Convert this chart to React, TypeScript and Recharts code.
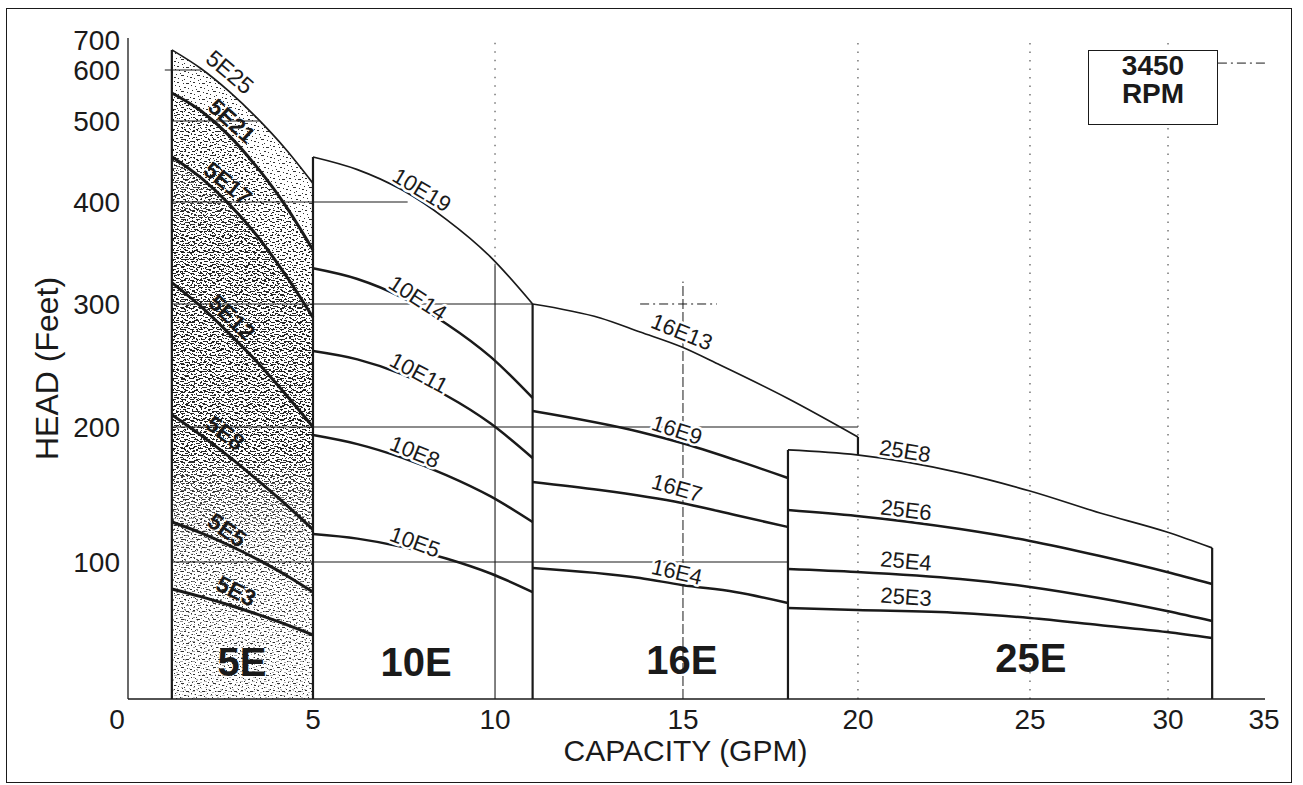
import { ComposedChart, Line, Area, XAxis, YAxis, ReferenceLine, ReferenceDot } from 'recharts';

const FONT = '"Liberation Sans", Arial, Helvetica, sans-serif';
const INK = '#1a1a1a';

const capacityTicks = [0, 5, 10, 15, 20, 25, 30, 35];
const headTicks = [100, 200, 300, 400, 500, 600, 700];

// the printed axes are not evenly spaced, so both scales run through these stops
// (value -> share of the plot length, measured from the origin side)
const capacityStops = [0, 5, 10, 15, 20, 25, 30, 35];
const capacityShare = [-0.0097, 0.1627, 0.3228, 0.4881, 0.642, 0.7933, 0.9147, 0.9991];
const headStops = [0, 100, 200, 300, 400, 500, 600, 700];
const headShare = [0, 0.2073, 0.4115, 0.5976, 0.7519, 0.8744, 0.9516, 0.997];

type Pt = [number, number];

// head curves, [capacity GPM, head ft]
const c5E25: Pt[] = [[1.4, 667], [2.14, 605], [2.86, 558], [3.57, 506], [4.29, 466], [5, 423]];
const c5E21: Pt[] = [[1.4, 555], [2.14, 520], [2.86, 482], [3.57, 443], [4.29, 397], [5, 353]];
const c5E17: Pt[] = [[1.4, 456], [2.14, 430], [2.86, 398], [3.57, 367], [4.29, 329], [5, 289]];
const c5E12: Pt[] = [[1.4, 321], [2.14, 298], [2.86, 276], [3.57, 253], [4.29, 227], [5, 200]];
const c5E8: Pt[] = [[1.4, 210], [2.14, 194], [2.86, 178], [3.57, 161], [4.29, 143], [5, 124]];
const c5E5: Pt[] = [[1.4, 129.6], [2.14, 121.6], [2.86, 112.4], [3.57, 102.1], [4.29, 90.7], [5, 78]];
const c5E3: Pt[] = [[1.4, 80.3], [2.14, 74.7], [2.86, 68.6], [3.57, 61.9], [4.29, 54.6], [5, 46.7]];

const c10E19: Pt[] = [[5, 455.6], [6.22, 440], [7.44, 415], [8.66, 383], [9.88, 346], [11, 300]];
const c10E14: Pt[] = [[5, 335], [6.22, 324.5], [7.44, 306.5], [8.66, 284], [9.88, 257], [11, 223.6]];
const c10E11: Pt[] = [[5, 261.8], [6.22, 255], [7.44, 243], [8.66, 225.6], [9.88, 202.8], [11, 177]];
const c10E8: Pt[] = [[5, 194], [6.22, 187.3], [7.44, 177.3], [8.66, 164.4], [9.88, 148.6], [11, 129.6]];
const c10E5: Pt[] = [[5, 120.7], [6.22, 117.3], [7.44, 111.2], [8.66, 102.6], [9.88, 91.6], [11, 78]];

const c16E13: Pt[] = [[11, 300], [12.8, 288.6], [13.86, 277.2], [14.97, 265], [16.06, 250.4], [17.97, 223.6], [20, 192.6]];
const c16E9: Pt[] = [[11, 213], [13.86, 196.3], [14.97, 188.1], [16.49, 175.6], [18, 162.2]];
const c16E7: Pt[] = [[11, 159.3], [12.79, 153.3], [14.97, 143.7], [16.49, 134.8], [18, 125.9]];
const c16E4: Pt[] = [[11, 95.6], [13.86, 88.3], [14.97, 83.2], [16.49, 78.1], [18, 70.1]];

const c25E8: Pt[] = [[18, 183], [19.97, 179.3], [22.97, 166], [25, 152.6], [27.54, 136.3], [29.96, 122.2], [32.3, 110.4]];
const c25E6: Pt[] = [[18, 138.5], [19.97, 134.1], [22.97, 124.4], [25, 115.6], [27.54, 104.4], [29.96, 92.7], [32.3, 83.9]];
const c25E4: Pt[] = [[18, 94.9], [19.97, 92.7], [22.97, 87.6], [25, 81.8], [27.5, 73.7], [29.96, 64.2], [32.3, 56.9]];
const c25E3: Pt[] = [[18, 66.4], [19.97, 65], [22.97, 62.8], [25, 59.1], [27.5, 54], [29.96, 48.9], [32.3, 44.5]];

// pump families and where their big names sit [gpm, head]
const familyNames = ['5E', '10E', '16E', '25E'];
const familyTagAt: Pt[] = [[3.19, 27], [7.83, 27], [14.97, 28.5], [25.03, 30]];

// range edges: [gpm, head from, head to]
const rangeEdges: [number, number, number][] = [
  [1.4, 0, 667], [5, 0, 455.6], [11, 0, 300], [18, 0, 183], [20, 179.3, 192.6], [32.3, 0, 110.4],
];

// grid rules printed only below the curves: [head, gpm from, gpm to]
const headRules: [number, number, number][] = [
  [600, 1.22, 2.14], [500, 1.4, 3.62], [400, 1.4, 7.6], [300, 1.4, 11], [200, 1.4, 20], [100, 1.4, 18],
];
const dashedHeadRules: [number, number, number][] = [[300, 13.86, 15.97], [623, 32.6, 35.1]];
// [gpm, head from, head to]
const capacityRules: [number, number, number][] = [[10, 0, 338]];
const dashedCapacityRules: [number, number, number][] = [[15, 0, 322]];
const dottedCapacityRules: [number, number, number][] = [[10, 338, 700], [20, 0, 700], [25, 0, 700], [30, 0, 700]];

const curves: { name: string; pts: Pt[]; top?: boolean; heavy?: boolean }[] = [
  { name: '5E25', pts: c5E25, top: true },
  { name: '5E21', pts: c5E21, heavy: true },
  { name: '5E17', pts: c5E17, heavy: true },
  { name: '5E12', pts: c5E12, heavy: true },
  { name: '5E8', pts: c5E8, heavy: true },
  { name: '5E5', pts: c5E5, heavy: true },
  { name: '5E3', pts: c5E3, heavy: true },
  { name: '10E19', pts: c10E19, top: true },
  { name: '10E14', pts: c10E14 },
  { name: '10E11', pts: c10E11 },
  { name: '10E8', pts: c10E8 },
  { name: '10E5', pts: c10E5 },
  { name: '16E13', pts: c16E13, top: true },
  { name: '16E9', pts: c16E9 },
  { name: '16E7', pts: c16E7 },
  { name: '16E4', pts: c16E4 },
  { name: '25E8', pts: c25E8, top: true },
  { name: '25E6', pts: c25E6 },
  { name: '25E4', pts: c25E4 },
  { name: '25E3', pts: c25E3 },
];

// curve names written along the curves: name, gpm, head, slope angle
const curveTags: { text: string; x: number; y: number; angle: number }[] = [
  { text: '5E25', x: 2.88, y: 596, angle: 40 },
  { text: '5E21', x: 2.93, y: 500, angle: 42 },
  { text: '5E17', x: 2.83, y: 423, angle: 39 },
  { text: '5E12', x: 2.93, y: 289, angle: 44 },
  { text: '5E8', x: 2.76, y: 195.6, angle: 37 },
  { text: '5E5', x: 2.81, y: 123.7, angle: 35 },
  { text: '5E3', x: 3.04, y: 78.8, angle: 26 },
  { text: '10E19', x: 7.99, y: 414.8, angle: 31 },
  { text: '10E14', x: 7.88, y: 305.9, angle: 33 },
  { text: '10E11', x: 7.91, y: 243.9, angle: 28 },
  { text: '10E8', x: 7.8, y: 181.5, angle: 22 },
  { text: '10E5', x: 7.8, y: 114.8, angle: 20 },
  { text: '16E13', x: 14.97, y: 277.2, angle: 22 },
  { text: '16E9', x: 14.84, y: 197.8, angle: 18 },
  { text: '16E7', x: 14.84, y: 154.8, angle: 16 },
  { text: '16E4', x: 14.84, y: 92.7, angle: 13 },
  { text: '25E8', x: 21.37, y: 182.2, angle: 9 },
  { text: '25E6', x: 21.4, y: 138.5, angle: 7 },
  { text: '25E4', x: 21.4, y: 100.7, angle: 5 },
  { text: '25E3', x: 21.4, y: 74.5, angle: 4 },
];

// piecewise-linear scale, d3-like enough for recharts
function stopScale(stops: number[], share: number[]): any {
  let dom = [stops[0], stops[stops.length - 1]];
  let rng = [0, 1];
  const frac = (v: number) => {
    let i = 0;
    while (i < stops.length - 2 && v > stops[i + 1]) i++;
    const t = (v - stops[i]) / (stops[i + 1] - stops[i]);
    return share[i] + t * (share[i + 1] - share[i]);
  };
  const s: any = (v: any) => rng[0] + frac(Number(v)) * (rng[1] - rng[0]);
  s.domain = (d?: number[]) => {
    if (d === undefined) return dom.slice();
    dom = d.slice();
    return s;
  };
  s.range = (r?: number[]) => {
    if (r === undefined) return rng.slice();
    rng = r.slice();
    return s;
  };
  s.copy = () => stopScale(stops, share).domain(dom).range(rng);
  s.ticks = () => stops.slice();
  s.invert = (px: number) => {
    const f = (px - rng[0]) / (rng[1] - rng[0]);
    let i = 0;
    while (i < share.length - 2 && f > share[i + 1]) i++;
    const t = (f - share[i]) / (share[i + 1] - share[i]);
    return stops[i] + t * (stops[i + 1] - stops[i]);
  };
  return s;
}

const capacityScale = stopScale(capacityStops, capacityShare);
const headScale = stopScale(headStops, headShare);

const rows = (pts: Pt[]) => pts.map(([x, y]) => ({ x, y }));

function textShape(text: string, angle: number, size: number, weight: number, halo: boolean) {
  return (p: any) => (
    <text
      x={p.cx}
      y={p.cy}
      transform={`rotate(${angle} ${p.cx} ${p.cy})`}
      textAnchor="middle"
      dominantBaseline="central"
      fontFamily={FONT}
      fontSize={size}
      fontWeight={weight}
      fill={INK}
      stroke={halo ? '#fff' : 'none'}
      strokeWidth={halo ? 5 : 0}
      strokeLinejoin="round"
      style={{ paintOrder: 'stroke' }}
    >
      {text}
    </text>
  );
}

export default function App() {
  return (
    <div style={{ position: 'absolute', left: 0, top: 0, width: 1303, height: 785, background: '#fff' }}>
      <div
        style={{
          position: 'absolute', left: 6, top: 8, width: 1284, height: 773,
          border: `1.5px solid ${INK}`,
        }}
      />
      <div style={{ position: 'absolute', left: 0, top: 0 }}>
        <ComposedChart
          width={1303}
          height={785}
          margin={{ top: 38, right: 38, bottom: 0, left: 0 }}
          style={{ fontFamily: FONT }}
        >
          <defs>
            <pattern id="stippleA" width="16" height="16" patternUnits="userSpaceOnUse">
              <rect x="1" y="2" width="2" height="1" fill="#333" />
              <rect x="6" y="0" width="1" height="1" fill="#333" />
              <rect x="10" y="3" width="3" height="1" fill="#333" />
              <rect x="14" y="1" width="1" height="1" fill="#333" />
              <rect x="3" y="6" width="1" height="1" fill="#333" />
              <rect x="8" y="7" width="2" height="1" fill="#333" />
              <rect x="12" y="8" width="1" height="1" fill="#333" />
              <rect x="0" y="10" width="1" height="1" fill="#333" />
              <rect x="5" y="11" width="3" height="1" fill="#333" />
              <rect x="11" y="12" width="1" height="1" fill="#333" />
              <rect x="14" y="13" width="2" height="1" fill="#333" />
              <rect x="2" y="14" width="1" height="1" fill="#333" />
              <rect x="8" y="15" width="1" height="1" fill="#333" />
              <rect x="15" y="5" width="1" height="1" fill="#333" />
              <rect x="7" y="3" width="1" height="1" fill="#333" />
              <rect x="4" y="9" width="1" height="1" fill="#333" />
            </pattern>
            <pattern id="stippleB" width="12" height="10" patternUnits="userSpaceOnUse">
              <rect x="0" y="1" width="3" height="1" fill="#222" />
              <rect x="5" y="0" width="1" height="1" fill="#222" />
              <rect x="8" y="2" width="2" height="1" fill="#222" />
              <rect x="2" y="4" width="1" height="1" fill="#222" />
              <rect x="6" y="5" width="3" height="1" fill="#222" />
              <rect x="11" y="4" width="1" height="1" fill="#222" />
              <rect x="1" y="7" width="2" height="1" fill="#222" />
              <rect x="9" y="8" width="1" height="1" fill="#222" />
              <rect x="4" y="9" width="2" height="1" fill="#222" />
            </pattern>
            <pattern id="stippleC" width="9" height="7" patternUnits="userSpaceOnUse">
              <rect x="1" y="0" width="4" height="1" fill="#222" />
              <rect x="7" y="2" width="1" height="1" fill="#222" />
              <rect x="3" y="3" width="1" height="1" fill="#222" />
              <rect x="5" y="5" width="3" height="1" fill="#222" />
              <rect x="0" y="6" width="1" height="1" fill="#222" />
            </pattern>
            <linearGradient id="stippleFade" x1="0" y1="0" x2="0" y2="1">
              <stop offset="0" stopColor="#fff" />
              <stop offset="0.6" stopColor="#fff" />
              <stop offset="1" stopColor="#444" />
            </linearGradient>
            <mask id="stippleMask" maskContentUnits="objectBoundingBox">
              <rect x="0" y="0" width="1" height="1" fill="url(#stippleFade)" />
            </mask>
            <linearGradient id="stippleMid" x1="0" y1="0" x2="0" y2="1">
              <stop offset="0" stopColor="#999" />
              <stop offset="0.15" stopColor="#fff" />
              <stop offset="0.55" stopColor="#fff" />
              <stop offset="0.75" stopColor="#000" />
            </linearGradient>
            <mask id="stippleMidMask" maskContentUnits="objectBoundingBox">
              <rect x="0" y="0" width="1" height="1" fill="url(#stippleMid)" />
            </mask>
          </defs>

          <XAxis
            type="number"
            dataKey="x"
            domain={[0, 35]}
            allowDataOverflow
            scale={capacityScale}
            ticks={capacityTicks}
            interval={0}
            tickLine={false}
            tickMargin={4}
            height={86}
            axisLine={{ stroke: INK, strokeWidth: 1.3 }}
            tick={{ fill: INK, fontSize: 28, fontFamily: FONT }}
            label={{
              value: 'CAPACITY (GPM)', position: 'insideBottom', offset: 24, dx: -11,
              fill: INK, fontSize: 30, fontFamily: FONT,
            }}
          />
          <YAxis
            type="number"
            domain={[0, 700]}
            allowDataOverflow
            scale={headScale}
            ticks={headTicks}
            interval={0}
            width={128}
            tickLine={false}
            tickMargin={2}
            axisLine={{ stroke: INK, strokeWidth: 1.3 }}
            tick={{ fill: INK, fontSize: 28, fontFamily: FONT }}
            label={{
              value: 'HEAD (Feet)', position: 'insideLeft', offset: 47, angle: -90, textAnchor: 'middle',
              fill: INK, fontSize: 32, fontFamily: FONT,
            }}
          />
          <XAxis xAxisId="top" orientation="top" type="number" domain={[0, 35]} height={0} tick={false} tickLine={false} axisLine={{ stroke: INK, strokeWidth: 1.3 }} />
          <YAxis yAxisId="right" orientation="right" type="number" domain={[0, 700]} width={0} tick={false} tickLine={false} axisLine={{ stroke: INK, strokeWidth: 1.3 }} />

          <Area data={rows(c5E25)} dataKey="y" type="monotone" baseValue={0} stroke="none" fill="url(#stippleA)" fillOpacity={1} isAnimationActive={false} />
          <Area data={rows(c5E21)} dataKey="y" type="monotone" baseValue={0} stroke="none" fill="url(#stippleB)" fillOpacity={1} mask="url(#stippleMask)" isAnimationActive={false} />
          <Area data={rows(c5E17)} dataKey="y" type="monotone" baseValue={0} stroke="none" fill="url(#stippleC)" fillOpacity={1} mask="url(#stippleMidMask)" isAnimationActive={false} />

          {headRules.map(([y, x1, x2], i) => (
            <ReferenceLine key={`h${i}`} segment={[{ x: x1, y }, { x: x2, y }]} stroke={INK} strokeWidth={1.1} ifOverflow="visible" />
          ))}
          {dashedHeadRules.map(([y, x1, x2], i) => (
            <ReferenceLine key={`hd${i}`} segment={[{ x: x1, y }, { x: x2, y }]} stroke={INK} strokeWidth={1} strokeDasharray="9 4 2 4" ifOverflow="visible" />
          ))}
          {capacityRules.map(([x, y1, y2], i) => (
            <ReferenceLine key={`v${i}`} segment={[{ x, y: y1 }, { x, y: y2 }]} stroke={INK} strokeWidth={1.1} ifOverflow="visible" />
          ))}
          {dashedCapacityRules.map(([x, y1, y2], i) => (
            <ReferenceLine key={`vd${i}`} segment={[{ x, y: y1 }, { x, y: y2 }]} stroke={INK} strokeWidth={1} strokeDasharray="10 3" ifOverflow="visible" />
          ))}
          {dottedCapacityRules.map(([x, y1, y2], i) => (
            <ReferenceLine key={`vo${i}`} segment={[{ x, y: y1 }, { x, y: y2 }]} stroke="#555" strokeWidth={1.2} strokeDasharray="1.5 7" ifOverflow="visible" />
          ))}
          {rangeEdges.map(([x, y1, y2], i) => (
            <ReferenceLine key={`e${i}`} segment={[{ x, y: y1 }, { x, y: y2 }]} stroke={INK} strokeWidth={2.2} ifOverflow="visible" />
          ))}

          {curves.map((c) => (
            <Line
              key={c.name}
              name={c.name}
              data={rows(c.pts)}
              dataKey="y"
              type="monotone"
              stroke={INK}
              strokeWidth={c.top ? 1.7 : c.heavy ? 3 : 2.5}
              dot={false}
              activeDot={false}
              isAnimationActive={false}
            />
          ))}

          {curveTags.map((t) => {
            const in5E = t.text.startsWith('5E');
            return (
              <ReferenceDot
                key={`t${t.text}`}
                x={t.x}
                y={t.y}
                r={0}
                ifOverflow="visible"
                shape={textShape(t.text, t.angle, in5E ? 23 : 22, in5E && t.text !== '5E25' ? 700 : 400, !in5E)}
              />
            );
          })}
          {familyNames.map((f, i) => (
            <ReferenceDot
              key={`f${f}`}
              x={familyTagAt[i][0]}
              y={familyTagAt[i][1]}
              r={0}
              ifOverflow="visible"
              shape={textShape(f, 0, 40, 700, false)}
            />
          ))}
        </ComposedChart>
      </div>
      <div
        style={{
          position: 'absolute', left: 1088, top: 50, width: 128, height: 72,
          border: `1.5px solid ${INK}`, background: '#fff',
          display: 'flex', flexDirection: 'column', alignItems: 'center',
          boxSizing: 'content-box', paddingTop: 1,
          fontFamily: FONT, fontWeight: 700, fontSize: 28, lineHeight: '28px', color: INK,
        }}
      >
        <span style={{ display: 'block', height: 28 }}>3450</span>
        <span style={{ display: 'block', height: 28 }}>RPM</span>
      </div>
    </div>
  );
}
